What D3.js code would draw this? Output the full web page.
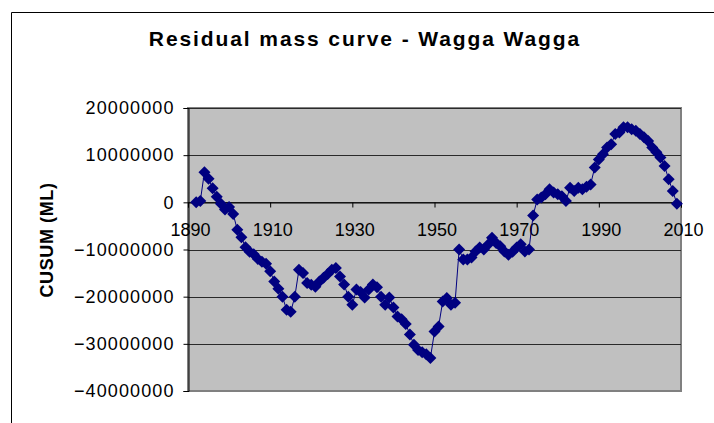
<!DOCTYPE html>
<html>
<head>
<meta charset="utf-8">
<script src="https://cdn.jsdelivr.net/npm/d3@7"></script>
<style>
  body { margin: 0; background: #fff; }
  svg { display: block; font-family: Arial, "Liberation Sans", sans-serif; }
</style>
</head>
<body>
<svg id="chart"></svg>
<script>
const width = 714;
const height = 423;

const chartTitle = 'Residual mass curve - Wagga Wagga';
const yTitle = 'CUSUM (ML)';

const years = [
  1892, 1893, 1894, 1895, 1896, 1897, 1898, 1899, 1900, 1901,
  1902, 1903, 1904, 1905, 1906, 1907, 1908, 1909, 1910, 1911,
  1912, 1913, 1914, 1915, 1916, 1917, 1918, 1919, 1920, 1921,
  1922, 1923, 1924, 1925, 1926, 1927, 1928, 1929, 1930, 1931,
  1932, 1933, 1934, 1935, 1936, 1937, 1938, 1939, 1940, 1941,
  1942, 1943, 1944, 1945, 1946, 1947, 1948, 1949, 1950, 1951,
  1952, 1953, 1954, 1955, 1956, 1957, 1958, 1959, 1960, 1961,
  1962, 1963, 1964, 1965, 1966, 1967, 1968, 1969, 1970, 1971,
  1972, 1973, 1974, 1975, 1976, 1977, 1978, 1979, 1980, 1981,
  1982, 1983, 1984, 1985, 1986, 1987, 1988, 1989, 1990, 1991,
  1992, 1993, 1994, 1995, 1996, 1997, 1998, 1999, 2000, 2001,
  2002, 2003, 2004, 2005, 2006, 2007, 2008, 2009
];

// cumulative departure from mean flow (ML)
const cusum = [
  0, 300000, 6400000, 5000000, 3000000, 1200000, -300000, -1500000, -1000000, -2500000,
  -5800000, -7400000, -9500000, -10500000, -11000000, -12000000, -12600000, -13000000, -14600000, -16800000,
  -18300000, -20000000, -22800000, -23200000, -20000000, -14300000, -15000000, -17100000, -17500000, -17900000,
  -16800000, -16000000, -15200000, -14300000, -13900000, -15700000, -17400000, -20000000, -21700000, -18500000,
  -19000000, -20200000, -18500000, -17400000, -18000000, -20000000, -21700000, -20200000, -22300000, -24200000,
  -24800000, -25800000, -28000000, -30200000, -31300000, -31800000, -32200000, -33000000, -27400000, -26300000,
  -21000000, -20300000, -21700000, -21300000, -10000000, -12100000, -12100000, -11700000, -10400000, -9600000,
  -10000000, -9000000, -7500000, -8600000, -9300000, -10400000, -11100000, -10500000, -9600000, -8900000,
  -10400000, -10000000, -2800000, 600000, 1000000, 1700000, 2800000, 2100000, 1700000, 1300000,
  300000, 3100000, 2400000, 3100000, 2800000, 3300000, 3800000, 7400000, 9100000, 10200000,
  11600000, 12300000, 14500000, 14800000, 15900000, 15900000, 15500000, 15200000, 14500000, 13800000,
  13000000, 11600000, 10600000, 9500000, 7700000, 4900000, 2400000, -300000
];

const xTicks = [1890, 1910, 1930, 1950, 1970, 1990, 2010];
const yTicks = [20000000, 10000000, 0, -10000000, -20000000, -30000000, -40000000];

const data = years.map((y, i) => ({ year: y, value: cusum[i] }));

const plot = { left: 188, top: 108, right: 681, bottom: 391 };

const svg = d3.select('#chart')
    .attr('width', width)
    .attr('height', height);

// outer chart border (cut off at the right and bottom)
svg.append('path')
    .attr('d', `M11.5,${height} V12.5 H${width}`)
    .attr('fill', 'none')
    .attr('stroke', '#000')
    .attr('stroke-width', 1);

const x = d3.scaleLinear().domain([1890, 2010]).range([plot.left, plot.right]);
const y = d3.scaleLinear().domain([-40000000, 20000000]).range([plot.bottom, plot.top]);

// plot area
svg.append('rect')
    .attr('x', plot.left)
    .attr('y', plot.top)
    .attr('width', plot.right - plot.left)
    .attr('height', plot.bottom - plot.top)
    .attr('fill', '#c0c0c0')
    .attr('stroke', '#808080')
    .attr('stroke-width', 2);

// gridlines
svg.append('g')
    .selectAll('line')
    .data(yTicks.filter(d => d !== -40000000))
    .enter().append('line')
    .attr('x1', plot.left)
    .attr('x2', plot.right)
    .attr('y1', d => Math.round(y(d)) + 0.5)
    .attr('y2', d => Math.round(y(d)) + 0.5)
    .attr('stroke', '#2a2a2a')
    .attr('stroke-width', 1.2);

// y axis
const yAxis = svg.append('g')
    .attr('transform', `translate(${plot.left + 0.5},0)`)
    .call(d3.axisLeft(y).tickValues(yTicks).tickSize(5).tickPadding(9).tickFormat(d3.format('d')));
yAxis.select('.domain').attr('stroke', '#000');
yAxis.selectAll('.tick line').attr('stroke', '#000');
yAxis.selectAll('text')
    .attr('fill', '#000')
    .style('font-size', '18px')
    .style('letter-spacing', '1.1px')
    .style('font-family', 'Arial, "Liberation Sans", sans-serif');

// x axis, crossing at zero
const xAxis = svg.append('g')
    .attr('transform', `translate(0,${Math.round(y(0)) + 0.5})`)
    .call(d3.axisBottom(x).tickValues(xTicks).tickSize(5).tickPadding(16).tickFormat(d3.format('d')));
xAxis.select('.domain').attr('stroke', '#000');
xAxis.selectAll('.tick line').attr('stroke', '#000');
xAxis.selectAll('text')
    .attr('fill', '#000')
    .attr('dx', 2)
    .style('font-size', '18px')
    .style('font-family', 'Arial, "Liberation Sans", sans-serif');

// series line
const line = d3.line()
    .x(d => x(d.year))
    .y(d => y(d.value));

svg.append('path')
    .datum(data)
    .attr('d', line)
    .attr('fill', 'none')
    .attr('stroke', '#000080')
    .attr('stroke-width', 1);

// diamond markers
const diamond = d3.symbol().type(d3.symbolSquare).size(72);
svg.append('g')
    .selectAll('path')
    .data(data)
    .enter().append('path')
    .attr('d', diamond)
    .attr('transform', d => `translate(${x(d.year)},${y(d.value)}) rotate(45)`)
    .attr('fill', '#000080');

// titles
svg.append('text')
    .attr('x', 365)
    .attr('y', 46)
    .attr('text-anchor', 'middle')
    .style('font-size', '21px')
    .style('font-weight', 'bold')
    .style('letter-spacing', '1.9px')
    .text(chartTitle);

svg.append('text')
    .attr('transform', 'translate(53,240) rotate(-90)')
    .attr('text-anchor', 'middle')
    .style('font-size', '18px')
    .style('font-weight', 'bold')
    .style('letter-spacing', '0.6px')
    .text(yTitle);
</script>
</body>
</html>
